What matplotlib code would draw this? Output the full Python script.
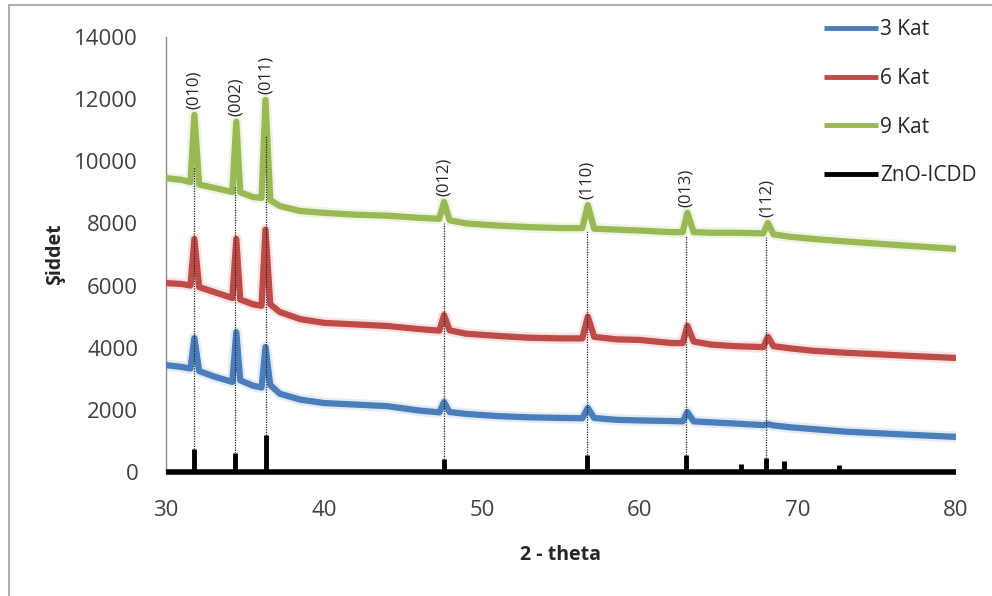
import matplotlib
matplotlib.use("Agg")
import matplotlib.pyplot as plt
from matplotlib.patches import Rectangle
import numpy as np

plt.rcParams['font.family'] = ['Open Sans', 'DejaVu Sans']

# 2-theta grid shared by the three diffractograms
theta = [30, 31.0, 31.55, 31.8, 32.1, 33.0, 34.2, 34.45, 34.7, 35.5, 36.05, 36.3, 36.6,
         37.2, 38.5, 40, 42, 44, 46, 47.3, 47.6, 47.95, 49, 51, 53, 55, 56.35, 56.7, 57.1,
         58.5, 60, 62, 62.7, 63.0, 63.4, 64.5, 66, 67.8, 68.1, 68.45, 69.5, 71, 73, 75, 77, 80]

kat3 = [3440, 3380, 3330, 4310, 3250, 3080, 2900, 4500, 2950, 2780, 2720, 4020, 2800,
        2520, 2330, 2220, 2170, 2120, 1980, 1920, 2250, 1930, 1870, 1800, 1760, 1740, 1730, 2060, 1740,
        1680, 1660, 1640, 1630, 1930, 1630, 1600, 1560, 1510, 1540, 1500, 1440, 1380, 1300, 1250, 1200, 1130]

kat6 = [6080, 6050, 6000, 7500, 5950, 5800, 5600, 7500, 5550, 5400, 5350, 7800, 5400,
        5150, 4920, 4800, 4750, 4700, 4600, 4550, 5050, 4560, 4450, 4380, 4320, 4300, 4300, 5000, 4350,
        4270, 4250, 4150, 4150, 4700, 4200, 4100, 4050, 4020, 4350, 4050, 3980, 3900, 3840, 3790, 3740, 3670]

kat9 = [9460, 9400, 9330, 11490, 9250, 9150, 9010, 11270, 9000, 8850, 8820, 11970, 8750,
        8560, 8400, 8340, 8280, 8250, 8180, 8150, 8690, 8100, 8000, 7930, 7880, 7850, 7850, 8590, 7830,
        7800, 7770, 7720, 7720, 8340, 7720, 7700, 7700, 7680, 8010, 7650, 7570, 7500, 7420, 7350, 7280, 7180]

# ZnO reference card (stick pattern)
icdd_pos = [31.75, 34.4, 36.3, 47.6, 56.65, 62.9, 66.4, 68.0, 69.1, 72.6]
icdd_int = [750, 600, 1200, 420, 550, 550, 260, 450, 350, 220]

# indexed reflections: position, label, top of guide line
hkl_pos = [31.75, 34.4, 36.3, 47.6, 56.65, 62.9, 68.0]
hkl_lbl = ['(010)', '(002)', '(011)', '(012)', '(110)', '(013)', '(112)']
hkl_peak = [11490, 11270, 11970, 8690, 8590, 8340, 8010]
guide_top = [9800, 9200, 10800, 8000, 7780, 7620, 7550]

fig = plt.figure(figsize=(9.92, 5.96), dpi=100)
ax = fig.add_axes([0.1673, 0.208, 0.7964, 0.730])

series = [(kat3, '#4a7ebb', '3 Kat'), (kat6, '#be4b48', '6 Kat'), (kat9, '#98b954', '9 Kat')]
for vals, col, name in series:
    ax.plot(theta, vals, color=col, lw=8, alpha=0.15, solid_joinstyle='round', zorder=2)
    ax.plot(theta, vals, color=col, lw=4.5, label=name, solid_joinstyle='round',
            solid_capstyle='butt', zorder=3)

# guide lines from the reference sticks up to the patterns
for x, top in zip(hkl_pos, guide_top):
    h = icdd_int[icdd_pos.index(x)]
    ax.plot([x, x], [h, top], color='#222222', lw=0.9, ls=(0, (1, 1)), zorder=4)

ax.vlines(icdd_pos, 0, icdd_int, color='black', lw=3.5, zorder=5)
ax.plot([30, 80], [0, 0], color='black', lw=4, solid_capstyle='butt', label='ZnO-ICDD',
        zorder=5, clip_on=False)

for x, lbl, pk in zip(hkl_pos, hkl_lbl, hkl_peak):
    ax.text(x, pk + 200, lbl, rotation=90, ha='center', va='bottom', fontsize=12,
            color='#262626')

ax.set_xlim(30, 80)
ax.set_ylim(0, 14000)
ax.set_xticks(np.arange(30, 81, 10))
ax.set_yticks(np.arange(0, 14001, 2000))
ax.tick_params(length=0, labelsize=16, labelcolor='#404040')
ax.tick_params(axis='x', pad=20)
ax.tick_params(axis='y', pad=20)
for side in ['top', 'right', 'bottom']:
    ax.spines[side].set_visible(False)
ax.spines['left'].set_color('#8c8c8c')
ax.spines['left'].set_linewidth(1.0)

ax.set_xlabel('2 - theta', fontsize=14, fontweight='bold', color='#262626')
ax.set_ylabel('Şiddet', fontsize=14, fontweight='bold', color='#262626')
ax.yaxis.set_label_coords(-0.128, 0.5)
ax.xaxis.set_label_coords(0.5, -0.168)

leg = fig.legend(loc='upper left', bbox_to_anchor=(0.82, 0.985), frameon=False, fontsize=15,
                 handlelength=2.6, handletextpad=0.1, labelspacing=1.33, borderpad=0,
                 labelcolor='#262626')
for h in leg.get_lines():
    h.set_linewidth(3.5)

# outer chart border
fig.add_artist(Rectangle((9 / 992, -0.1), 2, 1 - 5 / 596 + 0.1, transform=fig.transFigure,
                         fill=False, edgecolor='#b0b0b0', lw=1.5))

fig.savefig('out.png', dpi=100)
